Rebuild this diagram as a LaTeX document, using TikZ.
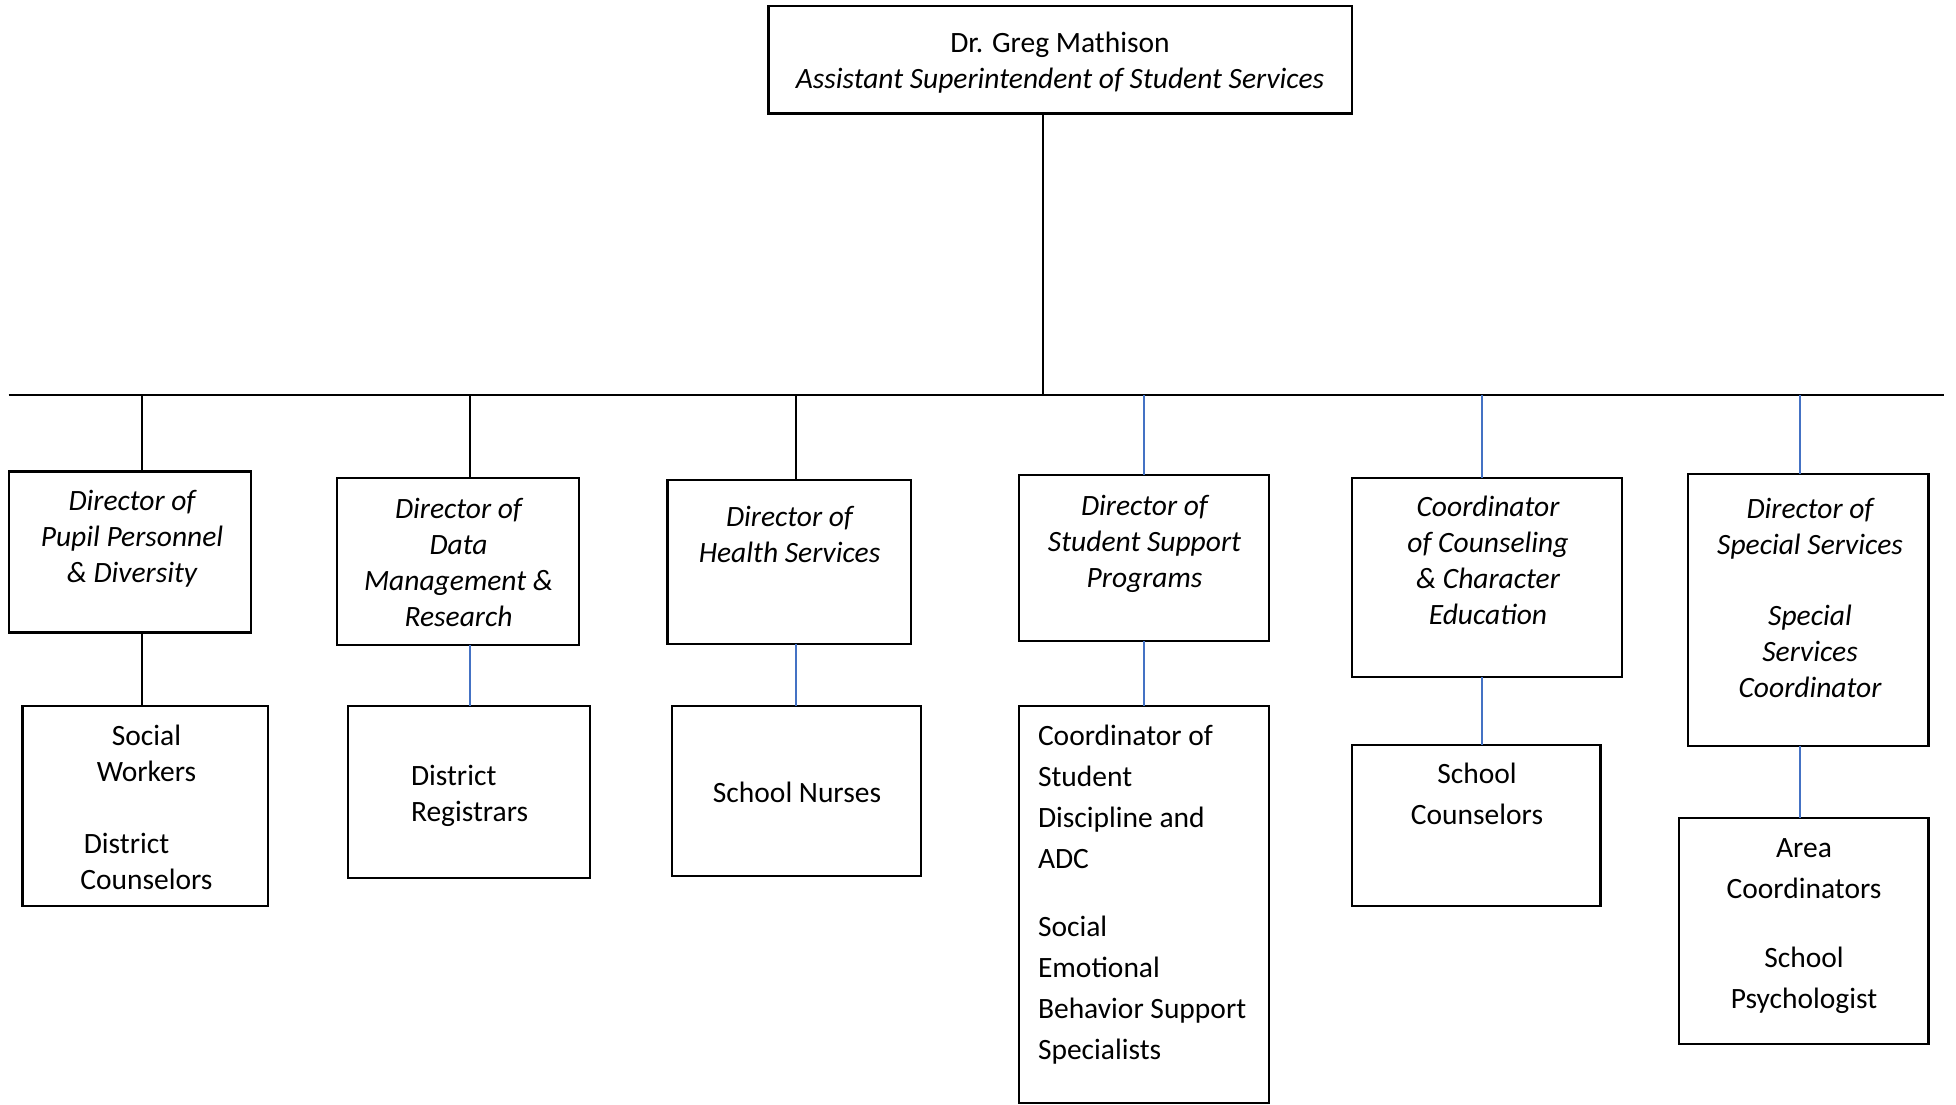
\documentclass[tikz,border=0pt]{standalone}
\usepackage{fontspec}
\setmainfont{Carlito}
\definecolor{linkblue}{RGB}{68,114,196}
\begin{document}
\begin{tikzpicture}[x=1pt,y=-1pt,
  box/.style={draw=black,line width=2.2pt,inner sep=0pt,outer sep=0pt},
  txt/.style={inner sep=0pt,outer sep=0pt,align=center,anchor=north,
    font=\fontsize{29.5}{36}\selectfont},
  txtit/.style={txt,font=\fontsize{29.5}{36}\selectfont\itshape},
  txtwide/.style={txt,font=\fontsize{29.5}{41}\selectfont},
  conn/.style={draw=black,line width=2pt},
  connblue/.style={draw=linkblue,line width=2pt}]
\useasboundingbox (0,0) rectangle (1956,1105);

% top position
\node[box,minimum width=583.8pt,minimum height=107.3pt] (T) at (1060.3,59.9) {};
\node[txt] (Ttxt) at (1060,27.7) {\strut Dr. Greg Mathison\\ \itshape Assistant Superintendent of Student Services};

% second level
\node[box,minimum width=242pt,minimum height=160.9pt] (B1) at (129.7,552) {};
\node[box,minimum width=242pt,minimum height=167.1pt] (B2) at (457.8,561.4) {};
\node[box,minimum width=243.2pt,minimum height=163.5pt] (B3) at (789,562) {};
\node[box,minimum width=249.5pt,minimum height=165.9pt] (B4) at (1143.9,558.3) {};
\node[box,minimum width=269.4pt,minimum height=199.5pt] (B5) at (1486.9,577.6) {};
\node[box,minimum width=240.8pt,minimum height=272pt] (B6) at (1808.1,610) {};

\node[txtit] (B1txt) at (132,485.5) {\strut Director of\\ Pupil Personnel\\ \& Diversity};
\node[txtit] (B2txt) at (458.5,493) {\strut Director of\\ Data\\ Management \&\\ Research};
\node[txtit] (B3txt) at (789.5,501.7) {\strut Director of\\ Health Services};
\node[txtit] (B4txt) at (1144.5,490.5) {\strut Director of\\ Student Support\\ Programs};
\node[txtit] (B5txt) at (1488,491.7) {\strut Coordinator\\ of Counseling\\ \& Character\\ Education};
\node[txtit] (B6txt) at (1810,493) {\strut Director of\\ Special Services\\[35pt] Special\\ Services\\ Coordinator};

% third level
\node[box,minimum width=245.7pt,minimum height=199.6pt] (D1) at (145.4,805.8) {};
\node[box,minimum width=242pt,minimum height=172.2pt] (D2) at (469,792.1) {};
\node[box,minimum width=248.3pt,minimum height=169.7pt] (D3) at (796.5,790.9) {};
\node[box,minimum width=249.5pt,minimum height=397pt] (D4) at (1143.9,904.5) {};
\node[box,minimum width=248.2pt,minimum height=160.9pt] (D5) at (1476.3,825.2) {};
\node[box,minimum width=249.5pt,minimum height=225.8pt] (D6) at (1803.8,931.2) {};

\node[txt] (D1txt) at (146.5,720) {\strut Social\\ Workers\\[36pt] District\rule{40pt}{0pt}\\ Counselors};
\node[txt,align=left,anchor=north west] (D2txt) at (411,759.9) {\strut District\\ Registrars};
\node[txt] (D3txt) at (797,777.4) {\strut School Nurses};
\node[txtwide,align=left,anchor=north west] (D4txt) at (1038,716.5) {\strut Coordinator of\\ Student\\ Discipline and\\ ADC\\[27.6pt] Social\\ Emotional\\ Behavior Support\\ Specialists};
\node[txtwide] (D5txt) at (1477,755.2) {\strut School\\ Counselors};
\node[txtwide] (D6txt) at (1804,828.8) {\strut Area\\ Coordinators\\[27.6pt] School\\ Psychologist};

% bus line and its junctions
\coordinate (busL) at (8.7,395.4);
\coordinate (busR) at (1943.5,395.4);
\coordinate (j0) at (1042.8,395.4);
\coordinate (j1) at (142.2,395.4);
\coordinate (j2) at (470.3,395.4);
\coordinate (j3) at (795.8,395.4);
\coordinate (j4) at (1143.9,395.4);
\coordinate (j5) at (1481.5,395.4);
\coordinate (j6) at (1800,395.4);

\draw[conn] (busL) -- (busR);
\draw[conn] (j0 |- T.south) -- (j0);

\draw[conn] (j1) -- (j1 |- B1.north);
\draw[conn] (j2) -- (j2 |- B2.north);
\draw[conn] (j3) -- (j3 |- B3.north);
\draw[connblue] (j4) -- (j4 |- B4.north);
\draw[connblue] (j5) -- (j5 |- B5.north);
\draw[connblue] (j6) -- (j6 |- B6.north);

\draw[conn] (j1 |- B1.south) -- (j1 |- D1.north);
\draw[connblue] (j2 |- B2.south) -- (j2 |- D2.north);
\draw[connblue] (j3 |- B3.south) -- (j3 |- D3.north);
\draw[connblue] (j4 |- B4.south) -- (j4 |- D4.north);
\draw[connblue] (j5 |- B5.south) -- (j5 |- D5.north);
\draw[connblue] (j6 |- B6.south) -- (j6 |- D6.north);
\end{tikzpicture}
\end{document}
